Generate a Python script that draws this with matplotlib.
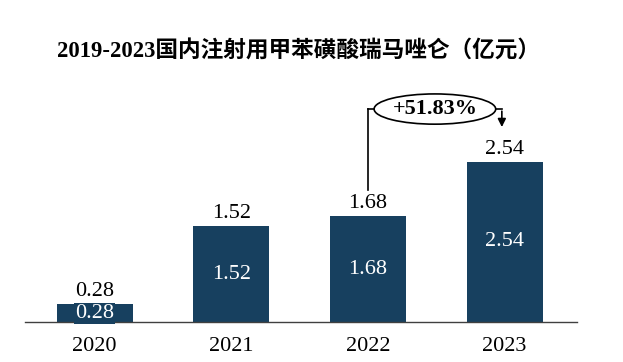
import matplotlib
matplotlib.use("Agg")
import matplotlib.pyplot as plt
from matplotlib.patches import Ellipse

years = ["2020", "2021", "2022", "2023"]
values = [0.28, 1.52, 1.68, 2.54]
growth_label = "+51.83%"
title = "2019-2023国内注射用甲苯磺酸瑞马唑仑（亿元）"

bar_color = "#17405F"
serif = ["Liberation Serif", "Noto Sans CJK SC"]

fig = plt.figure(figsize=(6.23, 3.62), dpi=100)
ax = fig.add_axes([25 / 623, 40 / 362, 552 / 623, 282 / 362])
x = list(range(len(years)))
ax.bar(x, values, width=0.556, color=bar_color, zorder=2)
ax.set_xlim(-0.51, 3.53)
ax.set_ylim(0, 4.476)
for s in ["top", "right", "left"]:
    ax.spines[s].set_visible(False)
ax.spines["bottom"].set_color("#404040")
ax.spines["bottom"].set_linewidth(1.0)
ax.set_yticks([])
ax.set_xticks(x)
ax.set_xticklabels(years, fontfamily=serif, fontsize=16)
ax.tick_params(axis="x", length=0, pad=11)

for xi, v in zip(x, values):
    ax.text(xi, v + 0.05, f"{v:.2f}", ha="center", va="bottom",
            fontfamily=serif, fontsize=16, color="black")
    if v < 0.5:
        ax.text(xi, v / 2, f"{v:.2f}", ha="center", va="center",
                fontfamily=serif, fontsize=16, color="white",
                bbox=dict(boxstyle="square,pad=0.05", fc=bar_color, ec="none"))
    else:
        ax.text(xi, v / 2, f"{v:.2f}", ha="center", va="center",
                fontfamily=serif, fontsize=16, color="white")

# growth annotation between 2022 and 2023
i0, i1 = 2, 3
ytop = 3.38
ex, ey = 2.49, ytop
ew, eh = 0.89, 0.48
ax.plot([i0, i0], [values[i0] + 0.42, ytop], color="black", lw=1.2, clip_on=False)
ax.plot([i0, ex - ew / 2], [ytop, ytop], color="black", lw=1.2, clip_on=False)
ax.add_patch(Ellipse((ex, ey), ew, eh, fc="white", ec="black", lw=1.2, clip_on=False, zorder=3))
ax.text(ex, ey, growth_label, ha="center", va="center", fontfamily=serif,
        fontsize=16, fontweight="bold", zorder=4)
ax.plot([ex + ew / 2, i1 - 0.02], [ytop, ytop], color="black", lw=1.2, clip_on=False)
ax.annotate("", xy=(i1 - 0.02, 3.05), xytext=(i1 - 0.02, ytop + 0.01),
            arrowprops=dict(arrowstyle="-|>", color="black", lw=1.2, mutation_scale=12))

fig.text(0.479, 1 - 52 / 362, title, ha="center", va="center",
         fontfamily=serif, fontsize=16.3, fontweight="bold")

fig.savefig("out.png", dpi=100)
